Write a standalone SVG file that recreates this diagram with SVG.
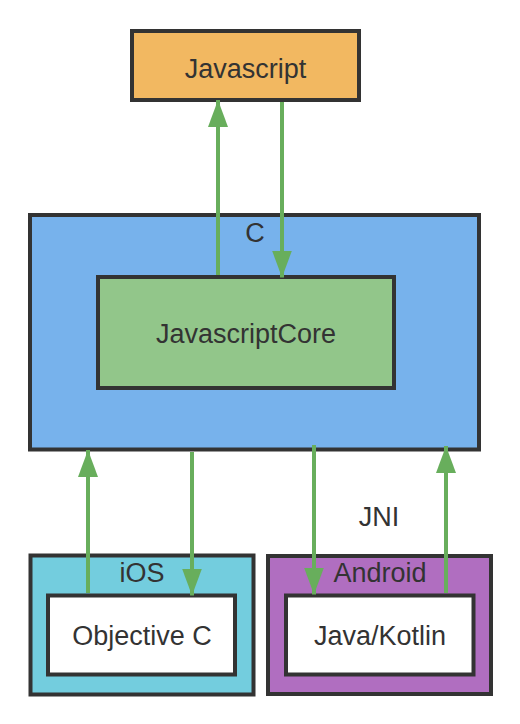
<svg xmlns="http://www.w3.org/2000/svg" width="520" height="724" viewBox="0 0 520 724">
<style>
  .box { stroke: #333333; stroke-width: 4; }
  .lbl { font-family: "Liberation Sans", Arial, sans-serif; font-size: 27px; fill: #333333; text-anchor: middle; }
  .conn { stroke: #68AE5C; stroke-width: 4; fill: none; marker-end: url(#arr); }
</style>
<defs>
  <marker id="arr" markerUnits="userSpaceOnUse" markerWidth="28" markerHeight="20" refX="27" refY="10" orient="auto" viewBox="0 0 28 20">
    <path d="M0,0 L27,10 L0,20 Z" fill="#68AE5C"/>
  </marker>
</defs>
<rect width="520" height="724" fill="#ffffff"/>
<g id="javascript">
  <rect class="box" x="132" y="31" width="227" height="69" fill="#F2B861"/>
  <text class="lbl" x="245.5" y="78">Javascript</text>
</g>
<g id="c">
  <rect class="box" x="30" y="215" width="449" height="234.5" fill="#77B2EC"/>
  <text class="lbl" x="255" y="241.5">C</text>
</g>
<g id="javascriptcore">
  <rect class="box" x="98" y="277" width="296" height="111" fill="#92C68A"/>
  <text class="lbl" x="246" y="343">JavascriptCore</text>
</g>
<g id="ios">
  <rect class="box" x="30.5" y="555.5" width="223" height="139" fill="#73CDDE"/>
  <text class="lbl" x="142" y="582">iOS</text>
</g>
<g id="objectivec">
  <rect class="box" x="48" y="595.5" width="187" height="79" fill="#ffffff"/>
  <text class="lbl" x="142" y="645">Objective C</text>
</g>
<g id="android">
  <rect class="box" x="268" y="556" width="223" height="138" fill="#B06EC0"/>
  <text class="lbl" x="380" y="582">Android</text>
</g>
<g id="javakotlin">
  <rect class="box" x="286" y="595.5" width="187.5" height="79" fill="#ffffff"/>
  <text class="lbl" x="380" y="645">Java/Kotlin</text>
</g>
<g id="jni-label">
  <text class="lbl" x="379" y="526">JNI</text>
</g>
<g id="connectors">
  <line class="conn" x1="218" y1="275" x2="218" y2="100"/>
  <line class="conn" x1="282" y1="102" x2="282" y2="277.5"/>
  <line class="conn" x1="88" y1="593" x2="88" y2="450"/>
  <line class="conn" x1="192" y1="452" x2="192" y2="595.5"/>
  <line class="conn" x1="314" y1="445" x2="314" y2="594.5"/>
  <line class="conn" x1="446" y1="593" x2="446" y2="446"/>
</g>
</svg>
